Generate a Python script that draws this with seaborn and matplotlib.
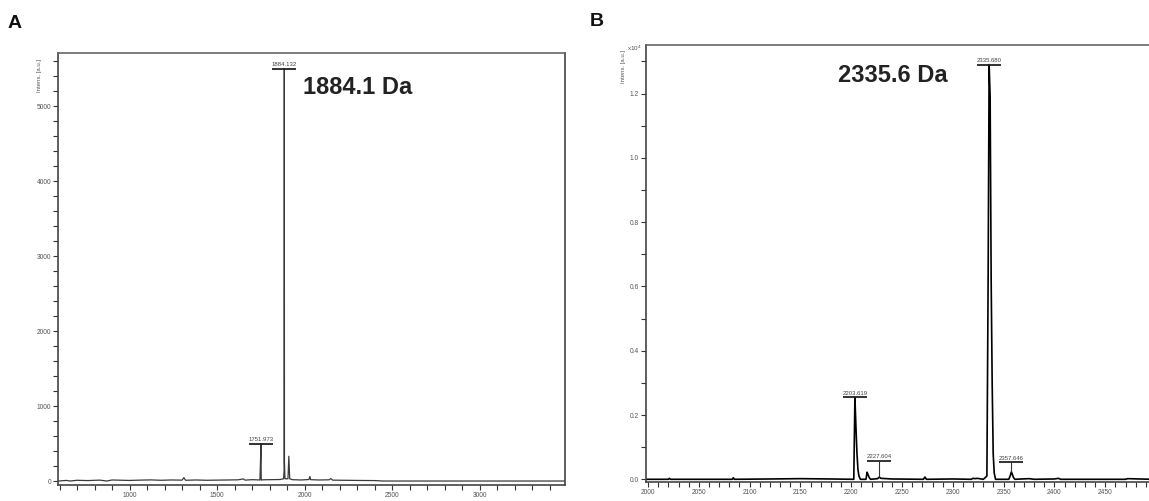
import matplotlib
matplotlib.use("Agg")
import matplotlib.pyplot as plt
import pandas as pd
import seaborn as sns
import numpy as np
from matplotlib.ticker import MultipleLocator

# ---- panel A spectrum (m/z, intensity a.u.) ----
a_mz = [591, 640, 660, 700, 760, 830, 870, 900, 960, 1000, 1060, 1120, 1180, 1240,
        1300, 1310, 1320, 1380, 1440, 1500, 1560, 1620, 1650, 1660, 1700, 1745,
        1751, 1752, 1753, 1758, 1800, 1860, 1880, 1883, 1884, 1885, 1888, 1905,
        1910, 1915, 1930, 1980, 2025, 2030, 2035, 2080, 2140, 2150, 2160, 2220,
        2300, 2400, 2450, 3488]
a_int = [0, 8, 0, 10, 6, 12, 0, 14, 10, 8, 12, 15, 10, 14,
         12, 45, 10, 14, 10, 12, 14, 16, 28, 12, 18, 14,
         500, 40, 12, 16, 18, 20, 30, 150, 5500, 250, 30, 30,
         330, 30, 18, 14, 20, 60, 18, 14, 16, 32, 12, 10,
         8, 6, 0, 0]
a_lab_mz = [1751.973, 1884.132]
a_lab_top = [500, 5500]
a_lab_bar = [500, 5500]

# ---- panel B spectrum (m/z, intensity x10^4 a.u.) ----
b_mz = [1998, 2020, 2021, 2022, 2060, 2083, 2084, 2085, 2120, 2150, 2180,
        2202.5, 2203.6, 2204.6, 2205.6, 2206.6, 2207.6, 2209,
        2214.5, 2215.6, 2216.6, 2217.6, 2219, 2226, 2227.6, 2229, 2240,
        2271, 2272.5, 2274, 2300, 2318, 2320, 2322, 2324, 2330,
        2333.5, 2334.7, 2335.7, 2336.7, 2337.7, 2338.7, 2339.7, 2340.7, 2342,
        2355, 2356.6, 2357.6, 2358.6, 2359.6, 2361, 2375, 2380, 2400,
        2404, 2406, 2440, 2470, 2472, 2496]
b_int = [0.0, 0.0, 0.003, 0.0, 0.0, 0.0, 0.005, 0.0, 0.001, 0.002, 0.001,
         0.0, 0.255, 0.165, 0.083, 0.03, 0.01, 0.0,
         0.0, 0.022, 0.014, 0.006, 0.0, 0.002, 0.007, 0.003, 0.001,
         0.0, 0.007, 0.0, 0.001, 0.0, 0.003, 0.002, 0.003, 0.0,
         0.01, 0.61, 1.29, 1.19, 0.62, 0.30, 0.08, 0.02, 0.0,
         0.0, 0.012, 0.023, 0.015, 0.006, 0.0, 0.002, 0.0, 0.001,
         0.003, 0.0, 0.0, 0.0, 0.002, 0.0]
b_lab_mz = [2203.619, 2227.604, 2335.680, 2357.646]
b_lab_top = [0.255, 0.007, 1.29, 0.023]
b_lab_bar = [0.255, 0.057, 1.29, 0.053]

W, H = 1149, 501
sns.set_style("ticks")
plt.rcParams['font.family'] = ['Liberation Sans', 'DejaVu Sans']

fig = plt.figure(figsize=(W / 100, H / 100), dpi=100)


def px_axes(l, t, r, b):
    return fig.add_axes([l / W, (H - b) / H, (r - l) / W, (b - t) / H])


axA = px_axes(58, 53, 565, 485)
axB = px_axes(646, 45, 1152, 482)

dfA = pd.DataFrame({"mz": a_mz, "intens": a_int})
dfB = pd.DataFrame({"mz": b_mz, "intens": b_int})
sns.lineplot(data=dfA, x="mz", y="intens", ax=axA, sort=False, estimator=None,
             color="#3a3a3a", linewidth=0.9)
sns.lineplot(data=dfB, x="mz", y="intens", ax=axB, sort=False, estimator=None,
             color="black", linewidth=1.2)

axA.set_xlim(591, 3488)
axA.set_ylim(-53, 5707)
axB.set_xlim(1998, 2496)
axB.set_ylim(-0.0084, 1.351)

axA.xaxis.set_major_locator(MultipleLocator(500))
axA.xaxis.set_minor_locator(MultipleLocator(100))
axA.yaxis.set_major_locator(MultipleLocator(1000))
axA.yaxis.set_minor_locator(MultipleLocator(200))
axB.xaxis.set_major_locator(MultipleLocator(50))
axB.xaxis.set_minor_locator(MultipleLocator(10))
axB.yaxis.set_major_locator(MultipleLocator(0.2))
axB.yaxis.set_minor_locator(MultipleLocator(0.1))
axB.yaxis.set_major_formatter(matplotlib.ticker.FormatStrFormatter('%.1f'))

for ax in (axA, axB):
    ax.set_xlabel("")
    ax.set_ylabel("")
    ax.tick_params(which='major', length=3.5, width=0.8, color='#333',
                   labelsize=4.8, labelcolor='#555', pad=1.5)
    ax.tick_params(which='minor', length=3.5, width=0.8, color='#333')
    for s in ['top', 'bottom', 'left', 'right']:
        ax.spines[s].set_linewidth(1.2)
        ax.spines[s].set_color('#444')
    ax.spines['top'].set_color('#666')

# peak labels: bar + tiny m/z text
for ax, mzs, tops, bars in ((axA, a_lab_mz, a_lab_top, a_lab_bar),
                            (axB, b_lab_mz, b_lab_top, b_lab_bar)):
    for m, tp, br in zip(mzs, tops, bars):
        if br > tp:
            ax.vlines(m, tp, br, color='#333', lw=0.8)
        ax.plot([m], [br], marker='_', ms=17, mew=1.3, color='#222')
        ax.annotate(f"{m:.3f}", (m, br), xytext=(0, 1.2), textcoords='offset points',
                    ha='center', va='bottom', fontsize=4.3, color='#444')

# big mass annotations
fig.text(303 / W, 1 - 87 / H, "1884.1 Da", fontsize=17, fontweight='bold',
         color='#222', ha='left', va='center')
fig.text(838 / W, 1 - 76 / H, "2335.6 Da", fontsize=17, fontweight='bold',
         color='#222', ha='left', va='center')

# panel letters
fig.text(8 / W, 1 - 24 / H, "A", fontsize=14, fontweight='bold', color='#111',
         ha='left', va='center')
fig.text(590 / W, 1 - 22 / H, "B", fontsize=14, fontweight='bold', color='#111',
         ha='left', va='center')

# intensity axis captions
fig.text(40 / W, 1 - 75 / H, "Intens. [a.u.]", fontsize=4.3, color='#555',
         rotation=90, ha='center', va='center')
fig.text(624 / W, 1 - 66 / H, "Intens. [a.u.]", fontsize=4.3, color='#555',
         rotation=90, ha='center', va='center')
fig.text(627 / W, 1 - 48 / H, r"x10$^4$", fontsize=4.5, color='#555',
         ha='left', va='center')

fig.savefig("out.png", dpi=100)
